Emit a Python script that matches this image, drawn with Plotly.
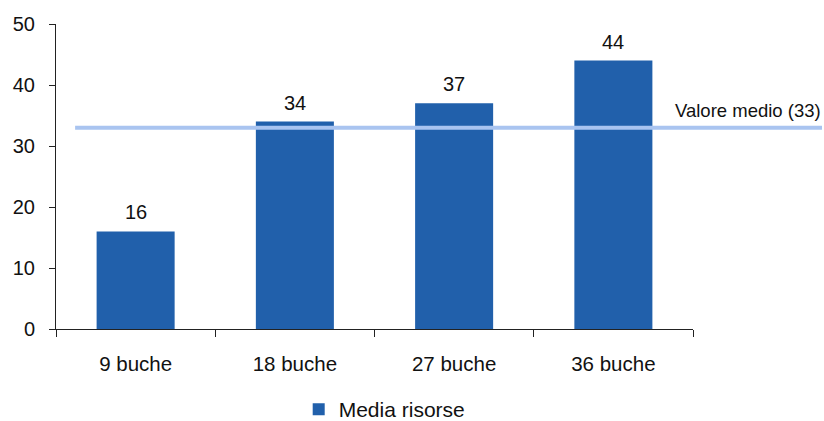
import plotly.graph_objects as go

categories = ["9 buche", "18 buche", "27 buche", "36 buche"]
values = [16, 34, 37, 44]
series_name = "Media risorse"
mean_value = 33
mean_label = "Valore medio (33)"
y_ticks = [0, 10, 20, 30, 40, 50]

FONT = "Liberation Sans, Arial, sans-serif"
BAR_COLOR = "#2160ab"
LINE_COLOR = "#a9c4f0"

fig = go.Figure()
fig.add_trace(go.Bar(
    x=categories, y=values, name=series_name,
    marker=dict(color=BAR_COLOR, line=dict(width=0)),
    showlegend=True,
))

for c, v in zip(categories, values):
    fig.add_annotation(x=c, y=v, text=str(v), showarrow=False,
                       yanchor="bottom", yshift=6,
                       font=dict(family=FONT, size=20, color="#111111"))

fig.add_shape(type="line", xref="paper", yref="y",
              x0=0.03, x1=1.2025, y0=mean_value, y1=mean_value,
              line=dict(color=LINE_COLOR, width=4), layer="above")
fig.add_annotation(xref="paper", yref="y", x=1.204, y=mean_value,
                   text=mean_label, showarrow=False,
                   xanchor="right", yanchor="middle", yshift=17,
                   font=dict(family=FONT, size=18.5, color="#111111"))

fig.update_layout(
    width=824, height=421,
    margin=dict(l=56, r=131, t=24, b=92, autoexpand=False),
    paper_bgcolor="white", plot_bgcolor="white",
    bargap=0.51,
    font=dict(family=FONT, size=20, color="#111111"),
    legend=dict(orientation="h", x=0.381, xanchor="left",
                y=-0.264, yanchor="middle",
                font=dict(family=FONT, size=21, color="#111111")),
)
fig.update_xaxes(
    showline=True, linecolor="#222222", linewidth=1,
    ticks="outside", ticklen=7, tickcolor="#222222",
    tickson="boundaries", showgrid=False, automargin=False,
    ticklabelstandoff=16,
    tickfont=dict(family=FONT, size=20.5, color="#111111"),
)
fig.update_yaxes(
    range=[0, 50], tickvals=y_ticks,
    showline=True, linecolor="#222222", linewidth=1,
    ticks="outside", ticklen=6, tickcolor="#222222",
    showgrid=False, zeroline=False, automargin=False,
    ticklabelstandoff=10,
    tickfont=dict(family=FONT, size=20, color="#111111"),
)

fig.write_html("out.html")
